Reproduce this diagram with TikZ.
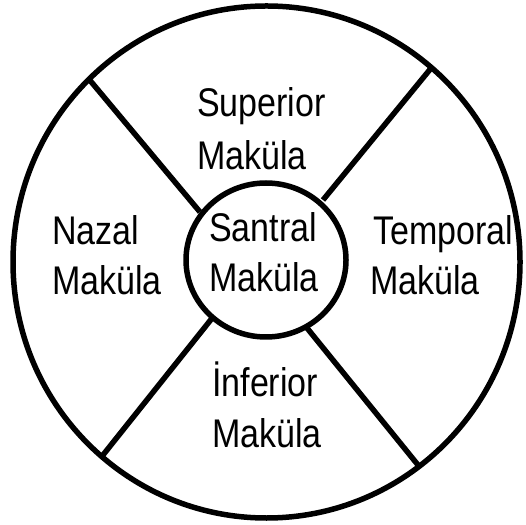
\documentclass[tikz,border=0pt]{standalone}
\usepackage{fontspec}
\newfontfamily\labfont[FakeStretch=0.85]{Liberation Sans}
\begin{document}
\begin{tikzpicture}[x=1pt,y=1pt,
  lab/.style={anchor=base west,inner sep=0pt,font=\labfont\fontsize{40}{48}\selectfont},
  ring/.style={line width=5.5pt,draw=black}]
\useasboundingbox (0,0) rectangle (526,524);
\fill[white] (0,0) rectangle (526,524);
% spokes
\coordinate (ulo) at (88,446);  \coordinate (uli) at (200,312);
\coordinate (uro) at (432,457); \coordinate (uri) at (323,324);
\coordinate (llo) at (103,69);  \coordinate (lli) at (213,207);
\coordinate (lro) at (418,59);  \coordinate (lri) at (307,196);
\draw[ring] (ulo) -- (uli);
\draw[ring] (uro) -- (uri);
\draw[ring] (llo) -- (lli);
\draw[ring] (lro) -- (lri);
% circles
\draw[ring] (266.5,262) ellipse [x radius=253.5, y radius=256];
\draw[ring,fill=white] (266,264) ellipse [x radius=80, y radius=77];
% labels
\node[lab] (sup1) at (197,407) {Superior};
\node[lab] (sup2) at (197,354) {Maküla};
\node[lab] (san1) at (209,282) {Santral};
\node[lab] (san2) at (209,232) {Maküla};
\node[lab] (naz1) at (52,279) {Nazal};
\node[lab] (naz2) at (52,229) {Maküla};
\node[lab] (tem1) at (373,279) {Temporal};
\node[lab] (tem2) at (370,229) {Maküla};
\node[lab] (inf1) at (212,127) {İnferior};
\node[lab] (inf2) at (212,77) {Maküla};
\end{tikzpicture}
\end{document}
